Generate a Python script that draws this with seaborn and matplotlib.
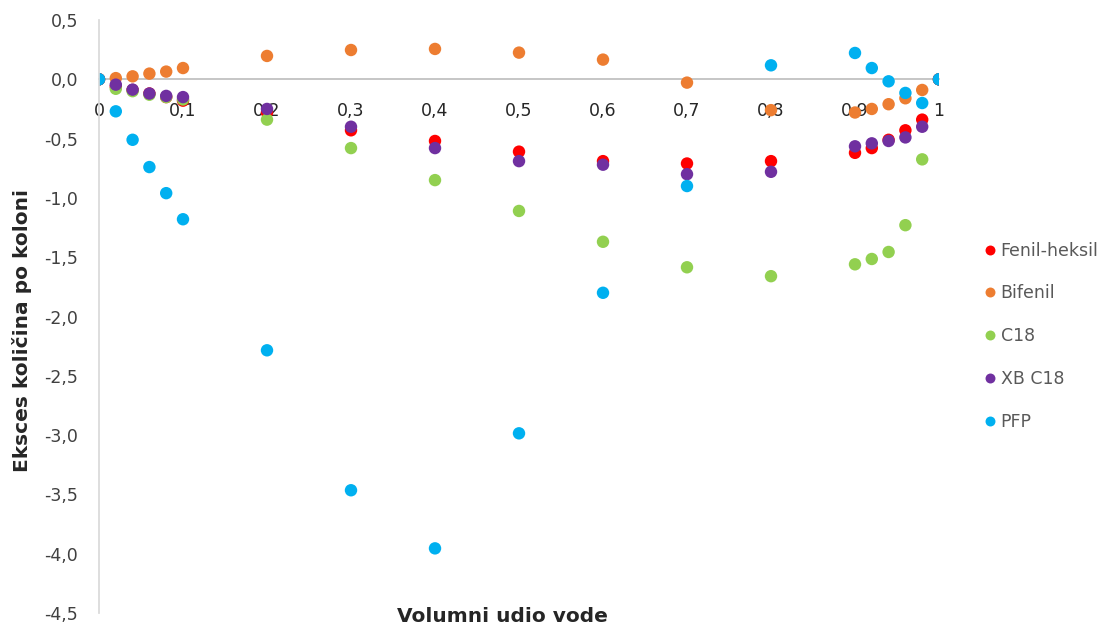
import numpy as np
import pandas as pd
import matplotlib
matplotlib.use("Agg")
import matplotlib.pyplot as plt
from matplotlib.ticker import FuncFormatter, MultipleLocator
import seaborn as sns

sns.set_theme(style="white")
plt.rcParams['font.family'] = ['DejaVu Sans']

# volume fraction of water
x_vals = [0, 0.02, 0.04, 0.06, 0.08, 0.1, 0.2, 0.3, 0.4, 0.5, 0.6, 0.7, 0.8,
          0.9, 0.92, 0.94, 0.96, 0.98, 1]

fenil_heksil = [0, -0.06, -0.09, -0.12, -0.15, -0.18, -0.28, -0.43, -0.52, -0.61,
                -0.69, -0.71, -0.69, -0.62, -0.58, -0.51, -0.43, -0.34, 0]
bifenil = [0, 0.01, 0.025, 0.048, 0.065, 0.095, 0.197, 0.247, 0.256, 0.225,
           0.166, -0.028, -0.26, -0.28, -0.25, -0.21, -0.16, -0.09, 0]
c18 = [0, -0.08, -0.10, -0.13, -0.15, -0.17, -0.34, -0.58, -0.85, -1.11,
       -1.37, -1.585, -1.66, -1.56, -1.515, -1.456, -1.23, -0.675, 0]
xb_c18 = [0, -0.045, -0.087, -0.12, -0.14, -0.15, -0.25, -0.40, -0.58, -0.69,
          -0.72, -0.80, -0.78, -0.565, -0.54, -0.52, -0.49, -0.40, 0]
pfp = [0, -0.27, -0.51, -0.74, -0.96, -1.18, -2.285, -3.465, -3.955, -2.985,
       -1.80, -0.90, 0.118, 0.222, 0.095, -0.017, -0.115, -0.20, 0]

series_names = ["Fenil-heksil", "Bifenil", "C18", "XB C18", "PFP"]
series_values = [fenil_heksil, bifenil, c18, xb_c18, pfp]
colors = ["#FF0000", "#ED7D31", "#92D050", "#7030A0", "#00B0F0"]

df = pd.concat([pd.DataFrame({"x": x_vals, "y": v, "kolona": n})
                for n, v in zip(series_names, series_values)], ignore_index=True)

fig = plt.figure(figsize=(11.06, 6.25), dpi=100)
ax = fig.add_axes([99 / 1106, 1 - 613 / 625, 840 / 1106, 593 / 625])

sns.scatterplot(data=df, x="x", y="y", hue="kolona", hue_order=series_names,
                palette=colors, s=80, linewidth=0, ax=ax, legend=True)

ax.set_xlim(0, 1)
ax.set_ylim(-4.5, 0.5)
ax.xaxis.set_major_locator(MultipleLocator(0.1))
ax.yaxis.set_major_locator(MultipleLocator(0.5))

def fmt_x(v, pos):
    if abs(v) < 1e-9:
        return "0"
    if abs(v - 1) < 1e-9:
        return "1"
    return f"{v:.1f}".replace(".", ",")

def fmt_y(v, pos):
    return f"{v:.1f}".replace(".", ",")

ax.xaxis.set_major_formatter(FuncFormatter(fmt_x))
ax.yaxis.set_major_formatter(FuncFormatter(fmt_y))

for side in ["top", "right"]:
    ax.spines[side].set_visible(False)
ax.spines["bottom"].set_position(("data", 0))
ax.spines["bottom"].set_color("#BFBFBF")
ax.spines["left"].set_color("#D9D9D9")
ax.spines["bottom"].set_zorder(0)
ax.tick_params(axis="both", length=0, labelsize=12.5, colors="#262626")
ax.tick_params(axis="x", pad=16)
ax.tick_params(axis="y", pad=15, labelcolor="#404040")
ax.set_xlabel("")
ax.set_ylabel("")

fig.text(502 / 1106, 1 - 617 / 625, "Volumni udio vode", ha="center", va="center",
         fontsize=14.5, fontweight="bold")
fig.text(22 / 1106, 1 - 330 / 625, "Eksces količina po koloni", ha="center", va="center",
         rotation=90, fontsize=14.5, fontweight="bold")

handles, labels = ax.get_legend_handles_labels()
leg = ax.legend(handles, labels, loc="upper left", bbox_to_anchor=(966 / 1106, 1 - 226 / 625),
                bbox_transform=fig.transFigure, frameon=False, fontsize=12.5,
                labelspacing=1.43, handletextpad=0.1, handlelength=1.0, markerscale=0.8)
for t in leg.get_texts():
    t.set_color("#595959")

fig.savefig("out.png", dpi=100)
